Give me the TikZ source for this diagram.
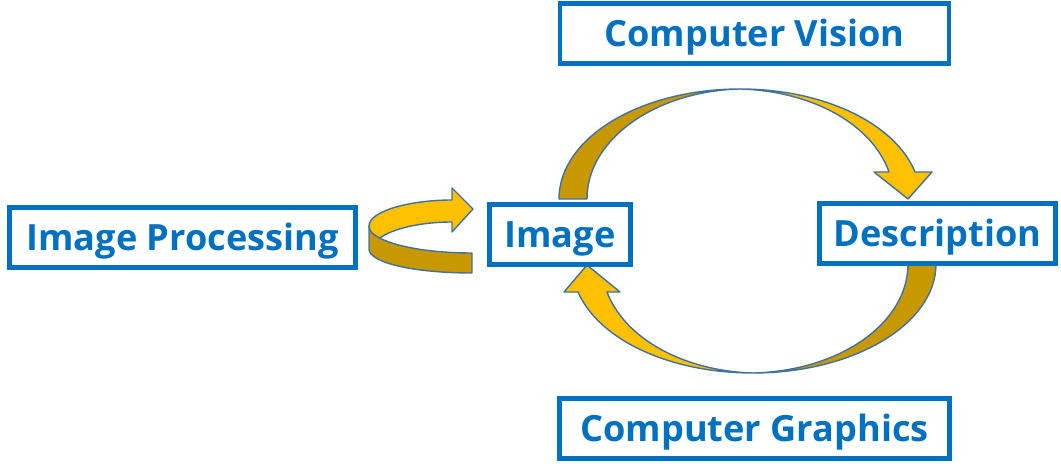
\documentclass[tikz,border=0pt]{standalone}
\usepackage{fontspec}
\setmainfont{Open Sans}
\usepackage{tikz}
\tikzset{>=latex}
\definecolor{boxblue}{RGB}{0,112,192}
\definecolor{gold}{RGB}{255,192,0}
\definecolor{darkgold}{RGB}{200,152,0}
\definecolor{edgeblue}{RGB}{65,113,156}
\tikzstyle{block} = [draw=boxblue, line width=3.3pt, text=boxblue, font=\fontsize{25.7}{30}\selectfont\bfseries, minimum height=1.5cm, inner sep=0pt, text height=24.4pt, text depth=6.4pt]
\tikzstyle{band} = [draw=edgeblue, line width=1pt, line join=round]
\usetikzlibrary{positioning}

\begin{document}
\begin{tikzpicture}[x=0.025cm, y=-0.025cm]
    \useasboundingbox (0,0) rectangle (1061,473);
    % curved arrows
    \filldraw [band, fill=darkgold] (559,199) .. controls (559,138) and (640,89) .. (740,89) .. controls (656,91) and (587,139) .. (587,199) -- cycle;
    \filldraw [band, fill=gold] (740,89) .. controls (823,89) and (895,123) .. (915,172) -- (932,172) -- (908,199) -- (874,172) -- (889,172) .. controls (872,124) and (812,91) .. (740,89) -- cycle;
    \filldraw [band, fill=darkgold] (936,264) .. controls (936,324) and (854,373) .. (753,373) .. controls (840,371) and (908,323) .. (908,264) -- cycle;
    \filldraw [band, fill=gold] (753,373) .. controls (670,373) and (599,340) .. (578,292) -- (564,292) -- (587,265) -- (620,292) -- (607,292) .. controls (625,339) and (684,371) .. (753,373) -- cycle;
    \filldraw [band, fill=darkgold] (369,226) .. controls (369,241) and (415,253) .. (472,253) -- (472,273) .. controls (415,273) and (369,263) .. (369,249) -- cycle;
    \filldraw [band, fill=gold] (452,200) .. controls (410,200) and (369,211) .. (369,226) .. controls (369,231) and (373,235) .. (380,238) .. controls (392,229) and (420,222) .. (452,222) -- (452,232) -- (473,209) -- (452,188) -- cycle;

    \node [block, minimum width=9.725cm](CV) at (754.5, 33.5) {Computer Vision};
    \node [block, minimum width=8.65cm](IP) at (182.5, 237.5) {Image Processing};
    \node [block, minimum width=3.525cm](I) at (560, 234.5) {Image};
    \node [block, minimum width=5.9cm](D) at (937.5, 233.5) {Description};
    \node [block, minimum width=9.75cm](CG) at (754.5, 428.5) {Computer Graphics};
\end{tikzpicture}
\end{document}
